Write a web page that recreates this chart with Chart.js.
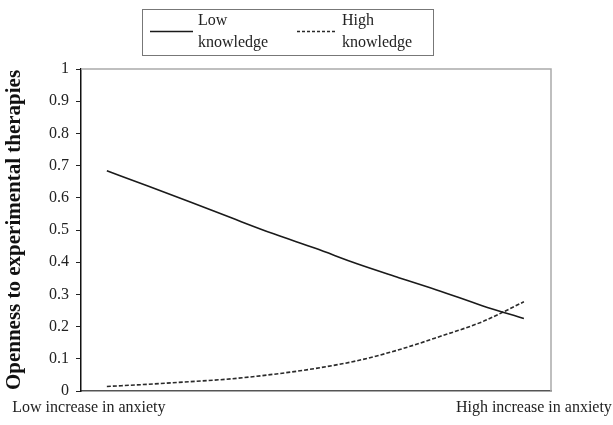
<!DOCTYPE html>
<html>
<head>
<meta charset="utf-8">
<script src="https://cdn.jsdelivr.net/npm/chart.js@4.4.1/dist/chart.umd.min.js"></script>
<style>
  html, body { margin: 0; padding: 0; background: #fff; }
  #wrap { width: 613px; height: 425px; position: relative; }
</style>
</head>
<body>
<div id="wrap"><canvas id="chart" width="613" height="425"></canvas></div>
<script>
// Data (x = position along the anxiety axis)
const xPositions = [0, 1, 2, 3, 4, 5, 6, 7, 8, 9, 10];
const lowKnowledge = [0.684, 0.636, 0.587, 0.537, 0.488, 0.443, 0.395, 0.352, 0.310, 0.265, 0.225];
const highKnowledge = [0.014, 0.021, 0.029, 0.038, 0.052, 0.070, 0.094, 0.128, 0.170, 0.215, 0.277];
const seriesLabels = [['Low', 'knowledge'], ['High', 'knowledge']];
const xTickValues = [-0.43, 10.24];
const xTickLabels = ['Low increase in anxiety', 'High increase in anxiety'];
const yTitle = 'Openness to experimental therapies';

const serif = '"Liberation Serif", "Times New Roman", serif';
const textColor = '#222';

function toPoints(values) {
    return values.map(function (v, i) { return { x: xPositions[i], y: v }; });
}

// Legend box drawn above the plot (two-line labels)
const boxLegend = {
    id: 'boxLegend',
    afterDraw: function (chart) {
        const ctx = chart.ctx;
        ctx.save();
        ctx.strokeStyle = '#777';
        ctx.lineWidth = 1;
        ctx.strokeRect(142.5, 9.5, 291, 46);

        const items = [
            { x1: 150, x2: 193, tx: 198, dash: [] },
            { x1: 297, x2: 337, tx: 342, dash: [3, 2] }
        ];
        ctx.font = '16px ' + serif;
        ctx.fillStyle = textColor;
        ctx.textBaseline = 'middle';
        items.forEach(function (it, i) {
            const ds = chart.data.datasets[i];
            ctx.beginPath();
            ctx.setLineDash(it.dash);
            ctx.strokeStyle = ds.borderColor;
            ctx.lineWidth = 1.5;
            ctx.moveTo(it.x1, 31.5);
            ctx.lineTo(it.x2, 31.5);
            ctx.stroke();
            ctx.setLineDash([]);
            const lines = seriesLabels[i];
            ctx.fillText(lines[0], it.tx, 21);
            ctx.fillText(lines[1], it.tx, 43);
        });
        ctx.restore();
    }
};

// Top and right frame of the plot area in light grey
const plotFrame = {
    id: 'plotFrame',
    beforeDatasetsDraw: function (chart) {
        const a = chart.chartArea;
        const ctx = chart.ctx;
        ctx.save();
        ctx.strokeStyle = '#aaa';
        ctx.lineWidth = 1.5;
        ctx.beginPath();
        ctx.moveTo(a.left, a.top);
        ctx.lineTo(a.right, a.top);
        ctx.lineTo(a.right, a.bottom);
        ctx.stroke();
        ctx.restore();
    }
};

new Chart(document.getElementById('chart'), {
    type: 'line',
    data: {
        datasets: [
            {
                label: seriesLabels[0].join(' '),
                data: toPoints(lowKnowledge),
                borderColor: '#1a1a1a',
                borderWidth: 1.6,
                pointRadius: 0,
                cubicInterpolationMode: 'monotone',
                fill: false
            },
            {
                label: seriesLabels[1].join(' '),
                data: toPoints(highKnowledge),
                borderColor: '#2a2a2a',
                borderWidth: 1.6,
                borderDash: [4, 2],
                pointRadius: 0,
                cubicInterpolationMode: 'monotone',
                fill: false
            }
        ]
    },
    options: {
        responsive: false,
        animation: false,
        layout: { padding: { top: 69, right: 62, left: 2, bottom: 0 } },
        plugins: {
            legend: { display: false },
            tooltip: { enabled: false }
        },
        scales: {
            x: {
                type: 'linear',
                min: -0.62,
                max: 10.65,
                afterBuildTicks: function (scale) {
                    scale.ticks = xTickValues.map(function (v) { return { value: v }; });
                },
                afterFit: function (scale) {
                    scale.height = 34;
                    scale.paddingLeft = 0;
                    scale.paddingRight = 0;
                },
                grid: { display: false, drawTicks: false },
                border: { color: '#555', width: 1.5 },
                ticks: {
                    autoSkip: false,
                    maxRotation: 0,
                    padding: 7,
                    color: textColor,
                    font: { family: serif, size: 16 },
                    callback: function (value, index) { return xTickLabels[index]; }
                }
            },
            y: {
                min: 0,
                max: 1,
                afterFit: function (scale) { scale.width = 79; },
                grid: { drawOnChartArea: false, drawTicks: true, tickLength: 5, color: '#222' },
                border: { color: '#111', width: 1.5 },
                ticks: {
                    stepSize: 0.1,
                    padding: 7,
                    color: textColor,
                    font: { family: serif, size: 16 },
                    callback: function (value) { return Math.round(value * 10) / 10; }
                },
                title: {
                    display: true,
                    text: yTitle,
                    color: '#111',
                    padding: { top: 0, bottom: 0 },
                    font: { family: serif, size: 21, weight: 'bold' }
                }
            }
        }
    },
    plugins: [boxLegend, plotFrame]
});
</script>
</body>
</html>
